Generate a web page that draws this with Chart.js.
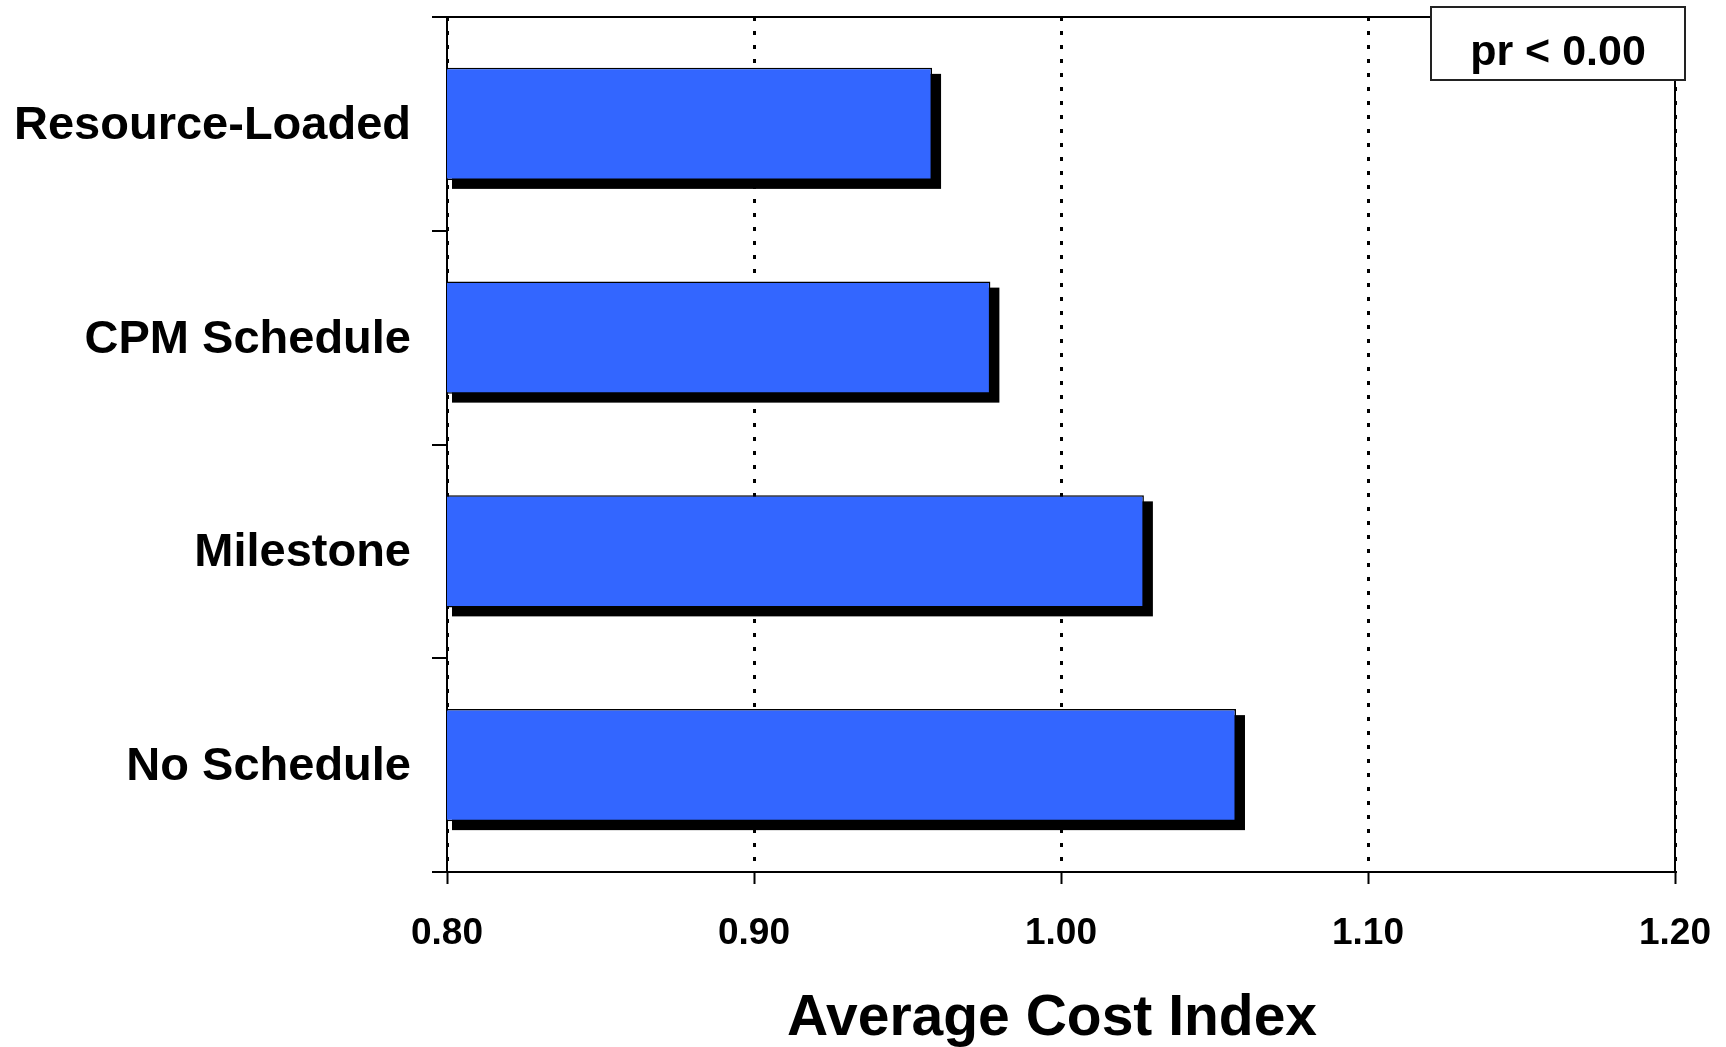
<!DOCTYPE html>
<html>
<head>
<meta charset="utf-8">
<title>Average Cost Index by Schedule Type</title>
<script src="https://cdn.jsdelivr.net/npm/chart.js@4.4.1/dist/chart.umd.min.js"></script>
<style>
  html, body { margin: 0; padding: 0; background: #ffffff; }
  #wrap { position: relative; width: 1726px; height: 1047px; }
</style>
</head>
<body>
<div id="wrap"><canvas id="chart"></canvas></div>
<script>
// Schedule types, top to bottom
const categories = ['Resource-Loaded', 'CPM Schedule', 'Milestone', 'No Schedule'];
// Average cost index for each schedule type
const costIndex = [0.958, 0.977, 1.027, 1.057];
// Value axis
const xTicks = [0.80, 0.90, 1.00, 1.10, 1.20];
const axisTitle = 'Average Cost Index';
const noteText = 'pr < 0.00';

const FONT = "'Liberation Sans', Arial, Helvetica, sans-serif";

// Drop shadow behind each bar, taken from the bar elements' own geometry
const barShadow = {
  id: 'barShadow',
  beforeDatasetsDraw(chart) {
    const { ctx, chartArea: a } = chart;
    const meta = chart.getDatasetMeta(0);
    ctx.save();
    ctx.fillStyle = '#000000';
    meta.data.forEach(el => {
      const p = el.getProps(['x', 'y', 'base', 'height'], true);
      const top = p.y - p.height / 2;
      const left = Math.max(p.base, a.left) + 5;
      ctx.fillRect(left, top + 6, (p.x + 9) - left, p.height + 3);
    });
    ctx.restore();
  }
};

// Top and right frame lines, the boxed significance note and the axis title
const frameAndNote = {
  id: 'frameAndNote',
  beforeDatasetsDraw(chart) {
    const { ctx, chartArea: a } = chart;
    ctx.save();
    ctx.strokeStyle = '#000000';
    ctx.lineWidth = 2;
    ctx.beginPath();
    ctx.moveTo(a.left, a.top);
    ctx.lineTo(a.right, a.top);
    ctx.lineTo(a.right, a.bottom);
    ctx.stroke();
    ctx.restore();
  },
  afterDraw(chart) {
    const ctx = chart.ctx;
    const bx = 1431, by = 7, bw = 254, bh = 73;
    ctx.save();
    ctx.fillStyle = '#ffffff';
    ctx.fillRect(bx, by, bw, bh);
    ctx.strokeStyle = '#222222';
    ctx.lineWidth = 2;
    ctx.strokeRect(bx, by, bw, bh);
    ctx.fillStyle = '#000000';
    ctx.font = 'bold 43px ' + FONT;
    ctx.textAlign = 'center';
    ctx.textBaseline = 'alphabetic';
    ctx.fillText(noteText, bx + bw / 2, 65);

    ctx.font = 'bold 57px ' + FONT;
    ctx.fillText(axisTitle, 1052, 1035);
    ctx.restore();
  }
};

new Chart(document.getElementById('chart'), {
  type: 'bar',
  data: {
    labels: categories,
    datasets: [{
      data: costIndex,
      backgroundColor: '#3366FF',
      borderColor: '#000000',
      borderWidth: 1.5,
      borderSkipped: 'start',
      barPercentage: 0.524,
      categoryPercentage: 1.0
    }]
  },
  options: {
    indexAxis: 'y',
    responsive: true,
    maintainAspectRatio: false,
    animation: false,
    layout: { padding: { top: 17, right: 51, left: 0, bottom: 0 } },
    plugins: {
      legend: { display: false },
      title: { display: false },
      tooltip: { enabled: false }
    },
    scales: {
      x: {
        type: 'linear',
        min: xTicks[0],
        max: xTicks[xTicks.length - 1],
        afterBuildTicks(scale) {
          scale.ticks = xTicks.map(v => ({ value: v }));
        },
        afterFit(scale) {
          scale.height = 175;
          scale.paddingLeft = 0;
          scale.paddingRight = 0;
        },
        ticks: {
          color: '#000000',
          padding: 28,
          maxRotation: 0,
          font: { family: FONT, size: 37, weight: 'bold' },
          callback: v => Number(v).toFixed(2)
        },
        grid: {
          color: '#000000',
          lineWidth: 3,
          tickLength: 12,
          tickWidth: 2,
          tickColor: '#000000',
          tickBorderDash: [],
          drawOnChartArea: true
        },
        border: { display: true, color: '#000000', width: 2, dash: [4, 10] },
        title: { display: false }
      },
      y: {
        afterFit(scale) {
          scale.width = 447;
          scale.paddingTop = 0;
          scale.paddingBottom = 0;
        },
        ticks: {
          color: '#000000',
          padding: 21,
          labelOffset: 2,
          font: { family: FONT, size: 47, weight: 'bold' }
        },
        grid: {
          offset: true,
          drawOnChartArea: false,
          color: '#000000',
          lineWidth: 2,
          tickLength: 15,
          tickColor: '#000000'
        },
        border: { display: true, color: '#000000', width: 2 }
      }
    }
  },
  plugins: [barShadow, frameAndNote]
});
</script>
</body>
</html>
